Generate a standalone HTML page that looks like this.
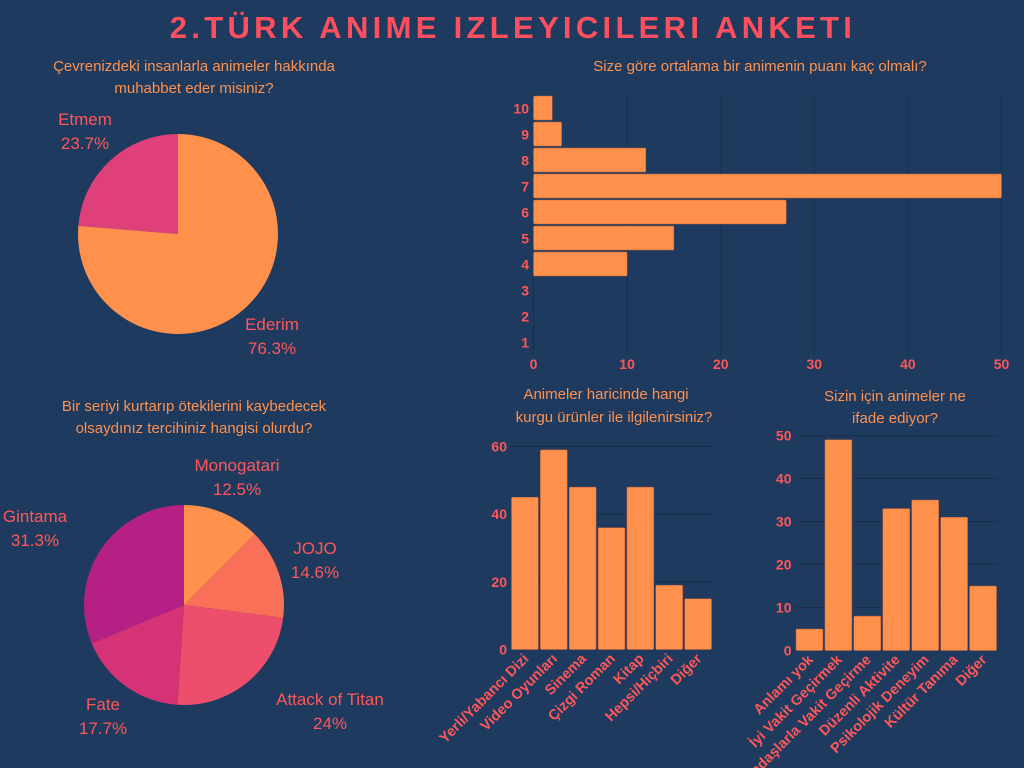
<!DOCTYPE html>
<html><head><meta charset="utf-8">
<style>
html,body{margin:0;padding:0;background:#1f3a5f;}
svg{display:block;font-family:"Liberation Sans",sans-serif;}
</style></head>
<body>
<svg id="s" width="1024" height="768" viewBox="0 0 1024 768" xmlns="http://www.w3.org/2000/svg">
<rect width="1024" height="768" fill="#1f3a5f"/>
<text x="513" y="38" text-anchor="middle" font-size="31" font-weight="bold" letter-spacing="4.3" fill="#ff4f5e">2.TÜRK ANIME IZLEYICILERI ANKETI</text>
<g font-size="15" fill="#ff914d" text-anchor="middle">
<text x="194" y="71">Çevrenizdeki  insanlarla animeler hakkında</text>
<text x="194" y="93">muhabbet eder misiniz?</text>
<text x="760" y="71">Size göre ortalama bir animenin puanı kaç olmalı?</text>
<text x="194" y="411">Bir seriyi kurtarıp ötekilerini kaybedecek</text>
<text x="194" y="433">olsaydınız tercihiniz hangisi olurdu?</text>
<text x="606" y="399">Animeler haricinde hangi</text>
<text x="614" y="422">kurgu ürünler ile ilgilenirsiniz?</text>
<text x="895" y="401">Sizin için animeler ne</text>
<text x="895" y="423">ifade ediyor?</text>
</g>
<g id="pie1"></g><g id="pie2"></g><g id="hbar"></g><g id="bar1"></g><g id="bar2"></g>
</svg>
<script>
const pie1Labels=["Ederim","Etmem"];
const pie1Values=[76.3,23.7];
const pie2Labels=["Monogatari","JOJO","Attack of Titan","Fate","Gintama"];
const pie2Values=[12.5,14.6,24,17.7,31.3];
const hbarCats=["1","2","3","4","5","6","7","8","9","10"];
const hbarValues=[0,0,0,10,15,27,50,12,3,2];
const hbarTicks=[0,10,20,30,40,50];
const bar1Cats=["Yerli/Yabancı Dizi","Video Oyunları","Sinema","Çizgi Roman","Kitap","Hepsi/Hiçbiri","Diğer"];
const bar1Values=[45,59,48,36,48,19,15];
const bar1Ticks=[0,20,40,60];
const bar2Cats=["Anlamı yok","İyi Vakit Geçirmek","Arkadaşlarla Vakit Geçirme","Düzenli Aktivite","Psikolojik Deneyim","Kültür Tanıma","Diğer"];
const bar2Values=[5,49,8,33,35,31,15];
const bar2Ticks=[0,10,20,30,40,50];

const NS="http://www.w3.org/2000/svg";
function mk(parent,tag,attrs,text){const e=document.createElementNS(NS,tag);for(const k in attrs)e.setAttribute(k,attrs[k]);if(text!==undefined)e.textContent=text;parent.appendChild(e);return e;}
const RED="#ff5757",OR="#ff914d";

function pie(g,cx,cy,r,labels,values,colors,labelPos){
  const tot=values.reduce((a,b)=>a+b,0);let a=-Math.PI/2;
  values.forEach((v,i)=>{
    const a2=a+v/tot*2*Math.PI;
    const x1=cx+r*Math.cos(a),y1=cy+r*Math.sin(a),x2=cx+r*Math.cos(a2),y2=cy+r*Math.sin(a2);
    const large=(a2-a)>Math.PI?1:0;
    const p=mk(g,"path",{d:`M${cx},${cy}L${x1},${y1}A${r},${r} 0 ${large} 1 ${x2},${y2}Z`,fill:colors[i]});
    
    
    const [lx,ly]=labelPos[i];
    const t1=mk(g,"text",{x:lx,y:ly,"text-anchor":"middle","font-size":17,fill:RED},labels[i]);
    
    
    const t2=mk(g,"text",{x:lx,y:ly+24,"text-anchor":"middle","font-size":17,fill:RED},v+"%");
    
    
    a=a2;
  });
}
pie(document.getElementById("pie1"),178,234,100,pie1Labels,pie1Values,["#ff914d","#e0407a"],[[272,330],[85,125]]);
pie(document.getElementById("pie2"),184,605,100,pie2Labels,pie2Values,["#ff914d","#f97058","#ec4e6c","#d63276","#b42084"],[[237,471],[315,554],[330,705],[103,710],[35,522]]);

(function(){
  const g=document.getElementById("hbar");
  const x0=533.5,x1=1001.5,top=95.5,band=26,n=hbarCats.length;
  const xs=v=>x0+(x1-x0)*v/50;
  hbarTicks.forEach(t=>{
    const l=mk(g,"line",{x1:xs(t),x2:xs(t),y1:top,y2:top+band*n,stroke:"#1a2f4d","stroke-width":1});
    
    
    const tx=mk(g,"text",{x:xs(t),y:369,"text-anchor":"middle","font-size":14,"font-weight":"bold",fill:RED},t);
    
    
  });
  hbarCats.forEach((c,i)=>{
    const row=n-1-i;const y=top+row*band;
    const w=xs(hbarValues[i])-x0;
    if(w>0){const r=mk(g,"rect",{x:x0,y:y+0.5,width:w,height:band-2,fill:OR,stroke:"#c0603a","stroke-width":0.5,rx:1});
      
      }
    const tx=mk(g,"text",{x:529,y:y+band/2+5,"text-anchor":"end","font-size":14,"font-weight":"bold",fill:RED},c);
    
    
  });
})();

function vbar(g,cats,vals,ticks,x0,x1,y0,ymax,yTop,prefix){
  const max=ticks[ticks.length-1];
  const ys=v=>y0-(y0-yTop)*v/max;
  ticks.forEach(t=>{
    if(t>0){const l=mk(g,"line",{x1:x0,x2:x1,y1:ys(t),y2:ys(t),stroke:"#1a2f4d","stroke-width":1});
      
      }
    const tx=mk(g,"text",{x:x0-4,y:ys(t)+5,"text-anchor":"end","font-size":14,"font-weight":"bold",fill:RED},t);
    
    
  });
  const bw=(x1-x0)/cats.length;
  cats.forEach((c,i)=>{
    const bx=x0+i*bw;
    const r=mk(g,"rect",{x:bx+0.5,y:ys(vals[i]),width:bw-2,height:y0-ys(vals[i]),fill:OR,stroke:"#c0603a","stroke-width":0.5,rx:1});
    
    
    const cx=bx+bw/2+4,cy=y0+10;
    const tx=mk(g,"text",{x:cx,y:cy,"text-anchor":"end","font-size":14.5,"font-weight":"bold",fill:RED,transform:`rotate(-45 ${cx} ${cy})`},c);
    
    
  });
}
vbar(document.getElementById("bar1"),bar1Cats,bar1Values,bar1Ticks,511,713,649.5,60,446.5,"bar1");
vbar(document.getElementById("bar2"),bar2Cats,bar2Values,bar2Ticks,795.5,998,650.5,50,435.5,"bar2");
</script>
</body></html>
